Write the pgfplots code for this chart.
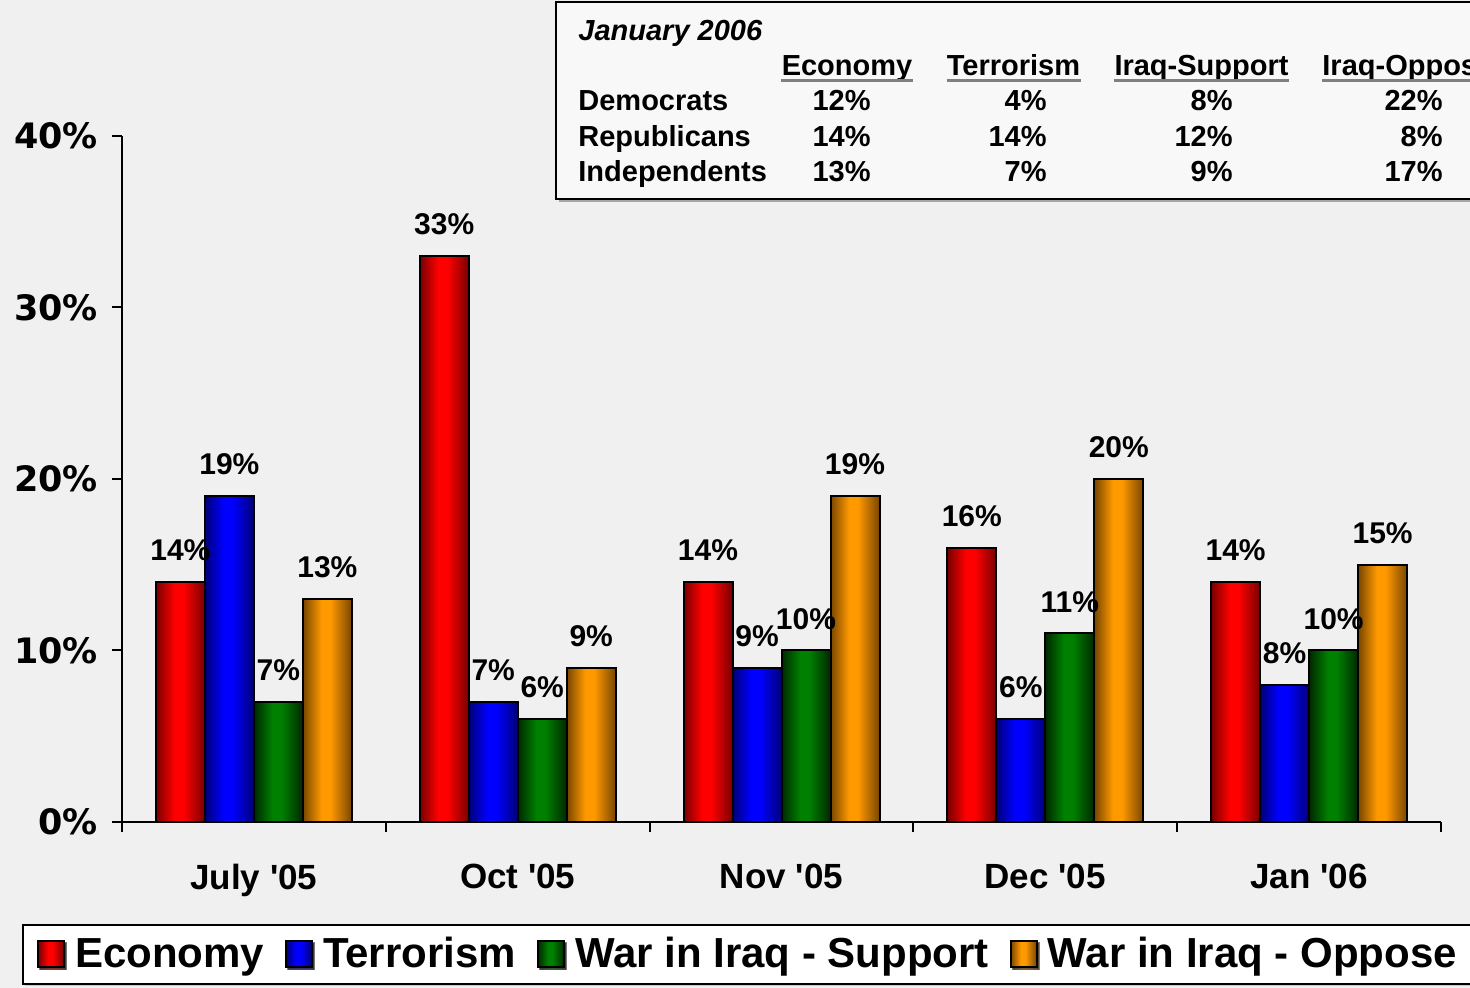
\documentclass[border=0pt]{standalone}
\usepackage{fontspec}
\setmainfont{Liberation Sans}
\newfontfamily\tickfont{DejaVu Sans}
\usepackage{pgfplots}
\pgfplotsset{compat=1.18}
\usetikzlibrary{shadows}

\definecolor{bg}{HTML}{F0F0F0}
\definecolor{tbl}{HTML}{F8F8F8}
\definecolor{rdk}{HTML}{780000}\definecolor{rbr}{HTML}{FF0000}
\definecolor{bdk}{HTML}{000078}\definecolor{bbr}{HTML}{0000FF}
\definecolor{gdk}{HTML}{002800}\definecolor{gbr}{HTML}{008000}
\definecolor{odk}{HTML}{784600}\definecolor{obr}{HTML}{FF9900}

% the visible part of a tikz shading is 25bp..75bp
\pgfdeclarehorizontalshading{redbar}{100bp}{color(0bp)=(rdk); color(25bp)=(rdk); color(44bp)=(rbr); color(53bp)=(rbr); color(75bp)=(rdk); color(100bp)=(rdk)}
\pgfdeclarehorizontalshading{bluebar}{100bp}{color(0bp)=(bdk); color(25bp)=(bdk); color(44bp)=(bbr); color(53bp)=(bbr); color(75bp)=(bdk); color(100bp)=(bdk)}
\pgfdeclarehorizontalshading{greenbar}{100bp}{color(0bp)=(gdk); color(25bp)=(gdk); color(44bp)=(gbr); color(53bp)=(gbr); color(75bp)=(gdk); color(100bp)=(gdk)}
\pgfdeclarehorizontalshading{orangebar}{100bp}{color(0bp)=(odk); color(25bp)=(odk); color(44bp)=(obr); color(53bp)=(obr); color(75bp)=(odk); color(100bp)=(odk)}

\tikzset{
  ecostyle/.style={draw=black, line width=1pt, shade, shading=redbar},
  terstyle/.style={draw=black, line width=1pt, shade, shading=bluebar},
  supstyle/.style={draw=black, line width=1pt, shade, shading=greenbar},
  oppstyle/.style={draw=black, line width=1pt, shade, shading=orangebar},
}

\newcommand\tfont{\fontsize{14.5}{17}\selectfont\bfseries}
% one shaded bar: style, shift, category, value
\newcommand\onebar[4]{\addplot[#1, bar shift=#2, forget plot] coordinates {(#3,#4)};}

\begin{document}
\begin{tikzpicture}[x=0.5pt,y=0.5pt]
\useasboundingbox (0,0) rectangle (1470,988);
\clip (0,0) rectangle (1470,988);
\fill[bg] (0,0) rectangle (1470,988);

% January 2006 table
\fill[black!35] (559,786) rectangle (1480,983);
\draw[black, line width=1pt, fill=tbl] (556,789) rectangle (1480,986);
\begin{scope}[every node/.style={inner sep=0pt, font=\tfont}]
\node[anchor=base west, font=\fontsize{14.5}{17}\selectfont\bfseries\itshape] at (578,947) {January 2006};
\node[anchor=base] (h1) at (847,912) {Economy};
\node[anchor=base] (h2) at (1013.5,912) {Terrorism};
\node[anchor=base] (h3) at (1201.5,912) {Iraq-Support};
\node[anchor=base west] (h4) at (1322,912) {Iraq-Oppose};
\foreach \h in {h1,h2,h3,h4}
  \draw[line width=1.5pt, black!50] ([yshift=-2.5pt]\h.base west) -- ([yshift=-2.5pt]\h.base east);
\foreach \row/\y/\a/\b/\c/\d in {Democrats/877/12/4/8/22, Republicans/841/14/14/12/8, Independents/806/13/7/9/17} {
  \node[anchor=base west] at (578,\y) {\row};
  \node[anchor=base east] at (871,\y) {\a\%};
  \node[anchor=base east] at (1047,\y) {\b\%};
  \node[anchor=base east] at (1233,\y) {\c\%};
  \node[anchor=base east] at (1443,\y) {\d\%};
}
\end{scope}

\begin{axis}[
    at={(61pt,83pt)}, anchor=south west,
    scale only axis, width=659.5pt, height=343pt,
    xmin=-0.5, xmax=4.5, ymin=0, ymax=40,
    enlargelimits=false,
    axis lines*=left,
    axis line style={line width=1pt, black},
    ybar, bar width=24.5pt,
    tick align=outside,
    major tick length=5pt, minor tick length=5pt,
    tick style={line width=1pt, black},
    xtick={0,1,2,3,4},
    xticklabels={July \textquotesingle05, Oct \textquotesingle05, Nov \textquotesingle05, Dec \textquotesingle05, Jan \textquotesingle06},
    major x tick style={draw=none},
    minor xtick={-0.5,0.5,1.5,2.5,3.5,4.5},
    xticklabel style={font=\fontsize{17.5}{20}\selectfont\bfseries, yshift=-12.5pt},
    ytick={0,10,20,30,40},
    yticklabels={0\%,10\%,20\%,30\%,40\%},
    yticklabel style={font=\tickfont\fontsize{17.5}{20}\selectfont\bfseries, xshift=-3.5pt},
    nodes near coords={\pgfmathprintnumber{\pgfplotspointmeta}\%},
    /pgf/number format/assume math mode=true,
    every node near coord/.append style={font=\fontsize{15}{18}\selectfont\bfseries, inner sep=0pt, yshift=10pt, black},
    legend columns=4,
    legend style={at={(axis description cs:-0.0758,-0.2376)}, anchor=south west,
        draw=black, line width=1pt, fill=white,
        drop shadow={shadow xshift=1pt, shadow yshift=-1pt, fill=black!35},
        font=\fontsize{21}{24}\selectfont\bfseries,
        inner xsep=7pt, inner ysep=6.5pt,
        nodes={inner sep=0pt},
        /tikz/every odd column/.append style={column sep=5pt},
        /tikz/every even column/.append style={column sep=10.5pt}},
    legend image code/.code={\draw[#1, draw=black, line width=1pt] (0pt,-6.5pt) rectangle (13pt,6.5pt);},
]
% Economy
\onebar{ecostyle}{-36.75pt}{0}{14}
\onebar{ecostyle}{-36.75pt}{1}{33}
\onebar{ecostyle}{-36.75pt}{2}{14}
\onebar{ecostyle}{-36.75pt}{3}{16}
\onebar{ecostyle}{-36.75pt}{4}{14}
% Terrorism
\onebar{terstyle}{-12.25pt}{0}{19}
\onebar{terstyle}{-12.25pt}{1}{7}
\onebar{terstyle}{-12.25pt}{2}{9}
\onebar{terstyle}{-12.25pt}{3}{6}
\onebar{terstyle}{-12.25pt}{4}{8}
% War in Iraq - Support
\onebar{supstyle}{12.25pt}{0}{7}
\onebar{supstyle}{12.25pt}{1}{6}
\onebar{supstyle}{12.25pt}{2}{10}
\onebar{supstyle}{12.25pt}{3}{11}
\onebar{supstyle}{12.25pt}{4}{10}
% War in Iraq - Oppose
\onebar{oppstyle}{36.75pt}{0}{13}
\onebar{oppstyle}{36.75pt}{1}{9}
\onebar{oppstyle}{36.75pt}{2}{19}
\onebar{oppstyle}{36.75pt}{3}{20}
\onebar{oppstyle}{36.75pt}{4}{15}
\addlegendimage{ecostyle}\addlegendentry{Economy}
\addlegendimage{terstyle}\addlegendentry{Terrorism\hspace{6pt}}
\addlegendimage{supstyle}\addlegendentry{War in Iraq - Support}
\addlegendimage{oppstyle}\addlegendentry{War in Iraq - Oppose}
\end{axis}
\end{tikzpicture}
\end{document}
